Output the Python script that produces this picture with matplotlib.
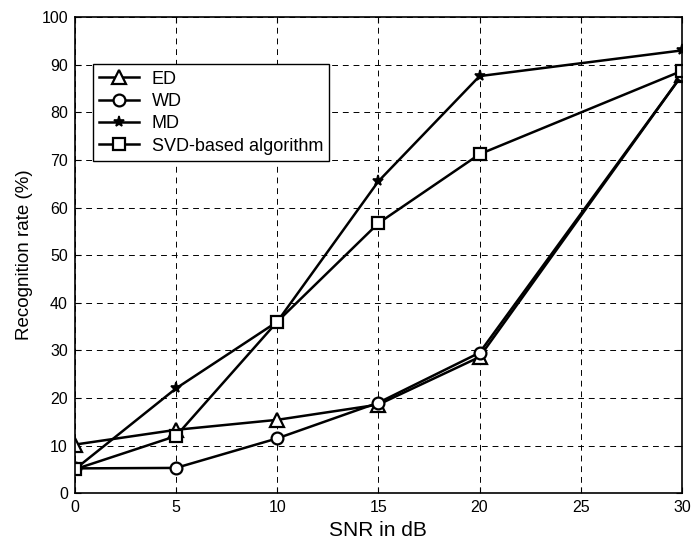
import matplotlib.pyplot as plt
import numpy as np

plt.rcParams['font.family'] = ['Liberation Sans', 'DejaVu Sans']

snr = [0, 5, 10, 15, 20, 30]
ed = [10.2, 13.3, 15.4, 18.6, 28.6, 87.8]
wd = [5.2, 5.3, 11.5, 19.0, 29.5, 87.8]
md = [5.0, 22.0, 36.0, 65.5, 87.6, 93.0]
svd = [5.0, 12.0, 36.0, 56.7, 71.2, 88.7]

fig = plt.figure(figsize=(6.93, 5.51), dpi=100)
ax = fig.add_axes([0.108, 0.105, 0.876, 0.864])

ax.plot(snr, ed, color="black", lw=1.8, marker="^", ms=10, mfc="white", mec="black", mew=1.6, label="ED")
ax.plot(snr, wd, color="black", lw=1.8, marker="o", ms=8.5, mfc="white", mec="black", mew=1.6, label="WD")
ax.plot(snr, md, color="black", lw=1.8, marker="*", ms=8, mfc="black", mec="black", mew=1.2, label="MD")
ax.plot(snr, svd, color="black", lw=1.8, marker="s", ms=8.5, mfc="white", mec="black", mew=1.6, label="SVD-based algorithm")

ax.set_xlim(0, 30)
ax.set_ylim(0, 100)
ax.set_xticks(np.arange(0, 31, 5))
ax.set_yticks(np.arange(0, 101, 10))
ax.tick_params(direction="in", labelsize=11.5, length=4, pad=5, top=True, right=True)
ax.grid(True, color="black", linestyle=(0, (6, 5)), linewidth=0.7)
for s in ax.spines.values():
    s.set_linewidth(1.2)

ax.set_xlabel("SNR in dB", fontsize=15, labelpad=4)
ax.set_ylabel("Recognition rate (%)", fontsize=13.5, labelpad=6)

leg = ax.legend(loc="upper left", bbox_to_anchor=(0.03, 0.901), borderaxespad=0, fontsize=13,
                frameon=True, fancybox=False, edgecolor="black", framealpha=1, handlelength=2.2,
                borderpad=0.35, labelspacing=0.3, handletextpad=0.7)
leg.get_frame().set_linewidth(1.0)

fig.savefig("out.png", dpi=100)
